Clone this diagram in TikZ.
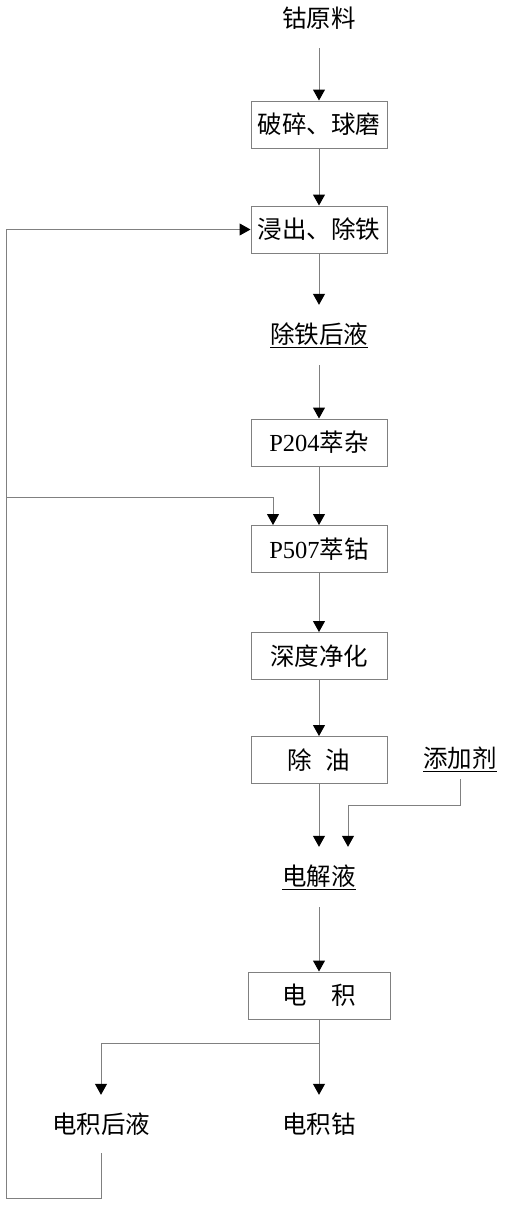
\documentclass[tikz,border=0pt]{standalone}
\usepackage{fontspec}
\setmainfont{Liberation Serif}
\newfontfamily\cjk{Noto Sans CJK SC}
\usetikzlibrary{arrows.meta}
\tikzset{
  boxnode/.style={draw=black!50, line width=1pt, minimum width=136pt, minimum height=47pt, inner sep=0pt, font=\fontsize{24.5}{28}\selectfont},
  txtnode/.style={minimum height=60pt, inner sep=0pt, font=\fontsize{24.5}{28}\selectfont},
  arr/.style={draw=black!50, line width=1pt, -{Triangle[width=12pt,length=11pt,color=black]}},
  ln/.style={draw=black!50, line width=1pt}
}
\begin{document}
\begin{tikzpicture}[x=1pt,y=-1pt]
\useasboundingbox (0,0) rectangle (504,1205);
\node[txtnode] (raw) at (319,18) {\cjk 钴原料};
\node[boxnode] (b1) at (319,124.5) {\cjk 破碎、球磨};
\node[boxnode] (b2) at (319,229.5) {\cjk 浸出、除铁};
\node[txtnode] (liq) at (319,335) {\underline{\cjk 除铁后液}};
\node[boxnode] (b3) at (319,442.5) {P204{\cjk 萃杂}};
\node[boxnode] (b4) at (319,549) {P507{\cjk 萃钴}};
\node[boxnode] (b5) at (319,656) {\cjk 深度净化};
\node[boxnode] (b6) at (319,760) {\cjk 除\hspace{14pt}油};
\node[txtnode, minimum height=40pt] (add) at (460,759) {\underline{\cjk 添加剂}};
\node[txtnode] (elec) at (319,877) {\underline{\cjk 电解液}};
\node[boxnode, minimum width=142pt] (b7) at (319,995.5) {\cjk 电\hspace{25pt}积};
\node[txtnode, minimum height=58pt] (out1) at (101,1124) {\cjk 电积后液};
\node[txtnode, minimum height=58pt] (out2) at (319,1124) {\cjk 电积钴};
\coordinate (c1) at (101,1198);
\coordinate (c2) at (6,1198);
\coordinate (c4) at (6,497);
\coordinate (c5) at (348,805);
\coordinate (split) at (319,1043);
\draw[arr] (raw) -- (b1);
\draw[arr] (b1) -- (b2);
\draw[arr] (b2) -- (liq);
\draw[arr] (liq) -- (b3);
\draw[arr] (b3) -- (b4);
\draw[arr] (b4) -- (b5);
\draw[arr] (b5) -- (b6);
\draw[arr] (b6) -- (elec);
\draw[arr] (add.south) |- (c5) -- (elec.north -| c5);
\draw[arr] (elec) -- (b7);
\draw[arr] (b7) -- (out2);
\draw[arr] (split) -| (out1.north);
\draw[arr] (out1.south) -- (c1) -- (c2) |- (b2.west);
\draw[arr] (c4) -| ([xshift=-46pt]b4.north);
\end{tikzpicture}
\end{document}
